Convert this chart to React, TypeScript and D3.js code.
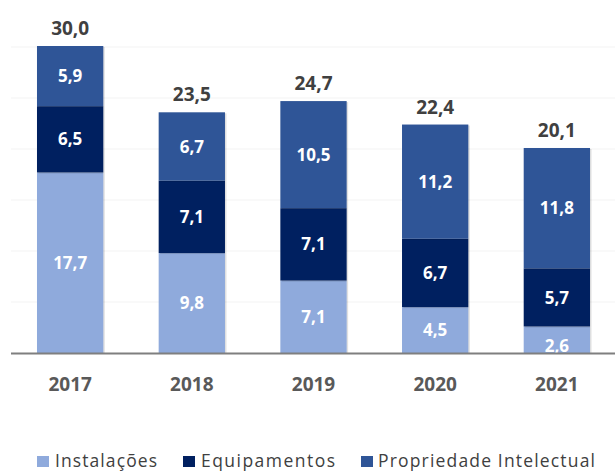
import React from 'react'
import * as d3 from 'd3'

const years = ['2017', '2018', '2019', '2020', '2021']
const instalacoes = [17.7, 9.8, 7.1, 4.5, 2.6]
const equipamentos = [6.5, 7.1, 7.1, 6.7, 5.7]
const propriedade = [5.9, 6.7, 10.5, 11.2, 11.8]
const totals = [30.0, 23.5, 24.7, 22.4, 20.1]
const seriesNames = ['Instalações', 'Equipamentos', 'Propriedade Intelectual']
const colors = ['#8FAADC', '#002060', '#2F5597']
const gridTicks = [5, 10, 15, 20, 25, 30]

const fmt = (v: number) => v.toFixed(1).replace('.', ',')

export default function App() {
  const width = 615
  const height = 472
  const baseY = 353

  const rows = years.map((y, i) => ({
    year: y,
    s0: instalacoes[i],
    s1: equipamentos[i],
    s2: propriedade[i],
  }))
  const stack = d3.stack<any>().keys(['s0', 's1', 's2'])
  const layers = stack(rows)

  const x = d3.scaleBand().domain(years).range([9, 618]).paddingInner(0.455).paddingOuter(0.23)
  const y = d3.scaleLinear().domain([0, 30.1]).range([baseY, 46])

  const font = '"Open Sans", "Noto Sans", sans-serif'

  // legend layout
  const legend = [
    { sx: 37, tx: 55, w: 102 },
    { sx: 183, tx: 201, w: 134 },
    { sx: 361, tx: 378, w: 217 },
  ]

  return (
    <svg width={width} height={height} style={{ position: 'absolute', left: 0, top: 0 }} fontFamily={font}>
      <rect width={width} height={height} fill="#fff" />
      {gridTicks.map((t) => (
        <line key={t} x1={11} x2={615} y1={y(t)} y2={y(t)} stroke="#f3f3f3" strokeWidth={1} />
      ))}
      {layers.map((layer, li) => (
        <g key={li}>
          {layer.map((d, i) => {
            const bx = x(years[i])!
            const y0 = y(d[0])
            const y1 = y(d[1])
            const val = [instalacoes, equipamentos, propriedade][li][i]
            const h = y0 - y1
            return (
              <g key={i}>
                <rect x={bx + 1.5} y={y1 + 1} width={x.bandwidth()} height={h} fill="#000" opacity={0.12} />
                <rect x={bx} y={y1} width={x.bandwidth()} height={h} fill={colors[li]} />
                <text
                  x={bx + x.bandwidth() / 2}
                  y={(y0 + y1) / 2 + (li === 0 && h < 30 ? 6 : 0)}
                  dy="0.36em"
                  textAnchor="middle"
                  fill="#fff"
                  fontWeight="bold"
                  fontSize={17}
                >
                  {fmt(val)}
                </text>
              </g>
            )
          })}
        </g>
      ))}
      <line x1={11} x2={615} y1={baseY + 0.5} y2={baseY + 0.5} stroke="#7f7f7f" strokeWidth={2} />
      {years.map((yr, i) => (
        <text
          key={yr}
          x={x(yr)! + x.bandwidth() / 2}
          y={y(d3.sum([instalacoes[i], equipamentos[i], propriedade[i]])) - 11}
          textAnchor="middle"
          fill="#404040"
          fontWeight="bold"
          fontSize={19}
        >
          {fmt(totals[i])}
        </text>
      ))}
      {years.map((yr) => (
        <text
          key={'l' + yr}
          x={x(yr)! + x.bandwidth() / 2}
          y={391}
          textAnchor="middle"
          fill="#595959"
          fontWeight="bold"
          fontSize={19}
        >
          {yr}
        </text>
      ))}
      {seriesNames.map((n, i) => (
        <g key={n}>
          <rect x={legend[i].sx} y={456} width={12} height={11} fill={colors[i]} />
          <text
            x={legend[i].tx}
            y={467}
            fill="#404040"
            fontSize={17.5}
            textLength={legend[i].w}
            lengthAdjust="spacing"
          >
            {n}
          </text>
        </g>
      ))}
    </svg>
  )
}
